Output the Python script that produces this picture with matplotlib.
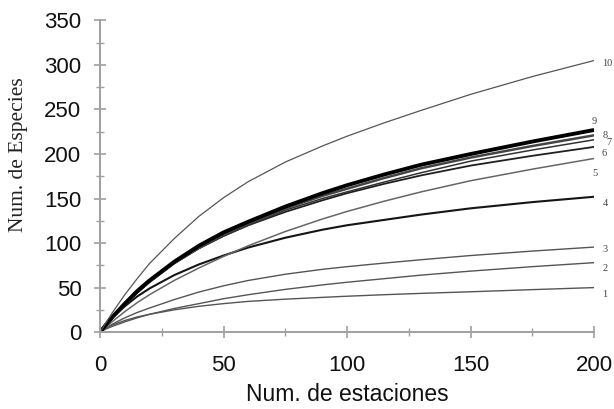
import matplotlib
matplotlib.use("Agg")
import matplotlib.pyplot as plt
from matplotlib.ticker import MultipleLocator

x = [0, 2, 5, 10, 15, 20, 30, 40, 50, 60, 75, 90, 100, 115, 130, 150, 175, 200]

c1 = [0, 4, 8, 13, 17, 20, 25, 29, 32, 34.5, 37, 39, 40.3, 42, 43.5, 45.3, 47.7, 50]
c2 = [0, 3, 6.5, 11.5, 16, 20, 26.5, 32, 37.5, 42, 48, 53, 56, 60, 64, 68.5, 73.5, 78]
c3 = [0, 4, 9, 16, 22, 27, 36.5, 45, 52, 58, 65, 70.5, 73.5, 77.5, 81.3, 86, 91, 95.5]
c4 = [0, 7, 16, 29, 40, 49, 64, 76, 86, 95, 106, 115, 120, 126, 132, 139, 146, 152]
c5 = [0, 5, 12, 23, 33, 42, 58, 72, 85, 97, 113, 127, 135.5, 147, 157.5, 170, 183, 195]
c6 = [0, 7, 16, 31, 44, 56, 77, 94, 108, 120, 135, 148, 156, 166.5, 176, 187, 198, 208]
c7 = [0, 7, 16, 31, 44, 56, 77, 94, 108, 120, 137, 150, 157.5, 168.5, 179, 192, 204.5, 216]
c8 = [0, 7, 17, 31, 45, 57, 78, 95, 110, 122, 139, 153, 161, 173, 184, 196, 209, 221]
c9 = [0, 7, 17, 32, 46, 58, 79, 97, 112, 124, 141, 156, 165, 177, 188, 200, 214, 227]
c10 = [0, 9, 22, 42, 60, 77, 105, 130, 151, 169, 191, 209, 220, 235, 249, 267, 287, 305]

labels = ["1", "2", "3", "4", "5", "6", "7", "8", "9", "10"]
series = [c1, c2, c3, c4, c5, c6, c7, c8, c9, c10]

styles = {
    "1": dict(color="#555555", lw=1.0),
    "2": dict(color="#555555", lw=1.0),
    "3": dict(color="#555555", lw=1.0),
    "4": dict(color="#151515", lw=1.5),
    "5": dict(color="#666666", lw=1.1),
    "6": dict(color="#202020", lw=1.3),
    "7": dict(color="#333333", lw=1.1),
    "8": dict(color="#444444", lw=1.8),
    "9": dict(color="#000000", lw=2.8),
    "10": dict(color="#555555", lw=0.9),
}
offsets = {
    "1": (6, -5), "2": (6, -4), "3": (6, -2), "4": (6, -5), "5": (-1, -11),
    "6": (5, -5), "7": (9, -2), "8": (6, 0), "9": (-2, 6), "10": (6, -2),
}

fig = plt.figure(figsize=(6.14, 4.09), dpi=100)
ax = fig.add_axes([0.163, 0.188, 0.8046, 0.762])

for lab, y in zip(labels, series):
    ax.plot(x, y, solid_capstyle="butt", **styles[lab])
    ax.annotate(lab, xy=(x[-1], y[-1]), xytext=offsets[lab], textcoords="offset points",
                fontsize=7.5, color="#444444", family="Liberation Serif",
                ha="left", va="center", annotation_clip=False)

ax.set_xlim(0, 200)
ax.set_ylim(0, 350)
ax.xaxis.set_major_locator(MultipleLocator(50))
ax.xaxis.set_minor_locator(MultipleLocator(25))
ax.yaxis.set_major_locator(MultipleLocator(50))
ax.yaxis.set_minor_locator(MultipleLocator(25))

for s in ["top", "right"]:
    ax.spines[s].set_visible(False)
for s in ["left", "bottom"]:
    ax.spines[s].set_color("#a0a0a0")
    ax.spines[s].set_linewidth(1.4)

ax.tick_params(which="major", direction="inout", length=9, width=1.2, color="#a0a0a0",
               labelsize=16, labelcolor="#111111")
ax.tick_params(which="minor", direction="inout", length=6, width=1.0, color="#a0a0a0")
ax.tick_params(axis="y", pad=9)
ax.tick_params(axis="x", pad=12)
for t in ax.get_xticklabels() + ax.get_yticklabels():
    t.set_family("Liberation Sans")

ax.set_xlabel("Num. de estaciones", family="Liberation Sans", fontsize=16.5, color="#111111", labelpad=5)
ax.set_ylabel("Num. de Especies", family="Liberation Serif", fontsize=15.5, color="#222222")
ax.yaxis.set_label_coords(-0.146, 0.57)

fig.savefig("out.png", dpi=100)
